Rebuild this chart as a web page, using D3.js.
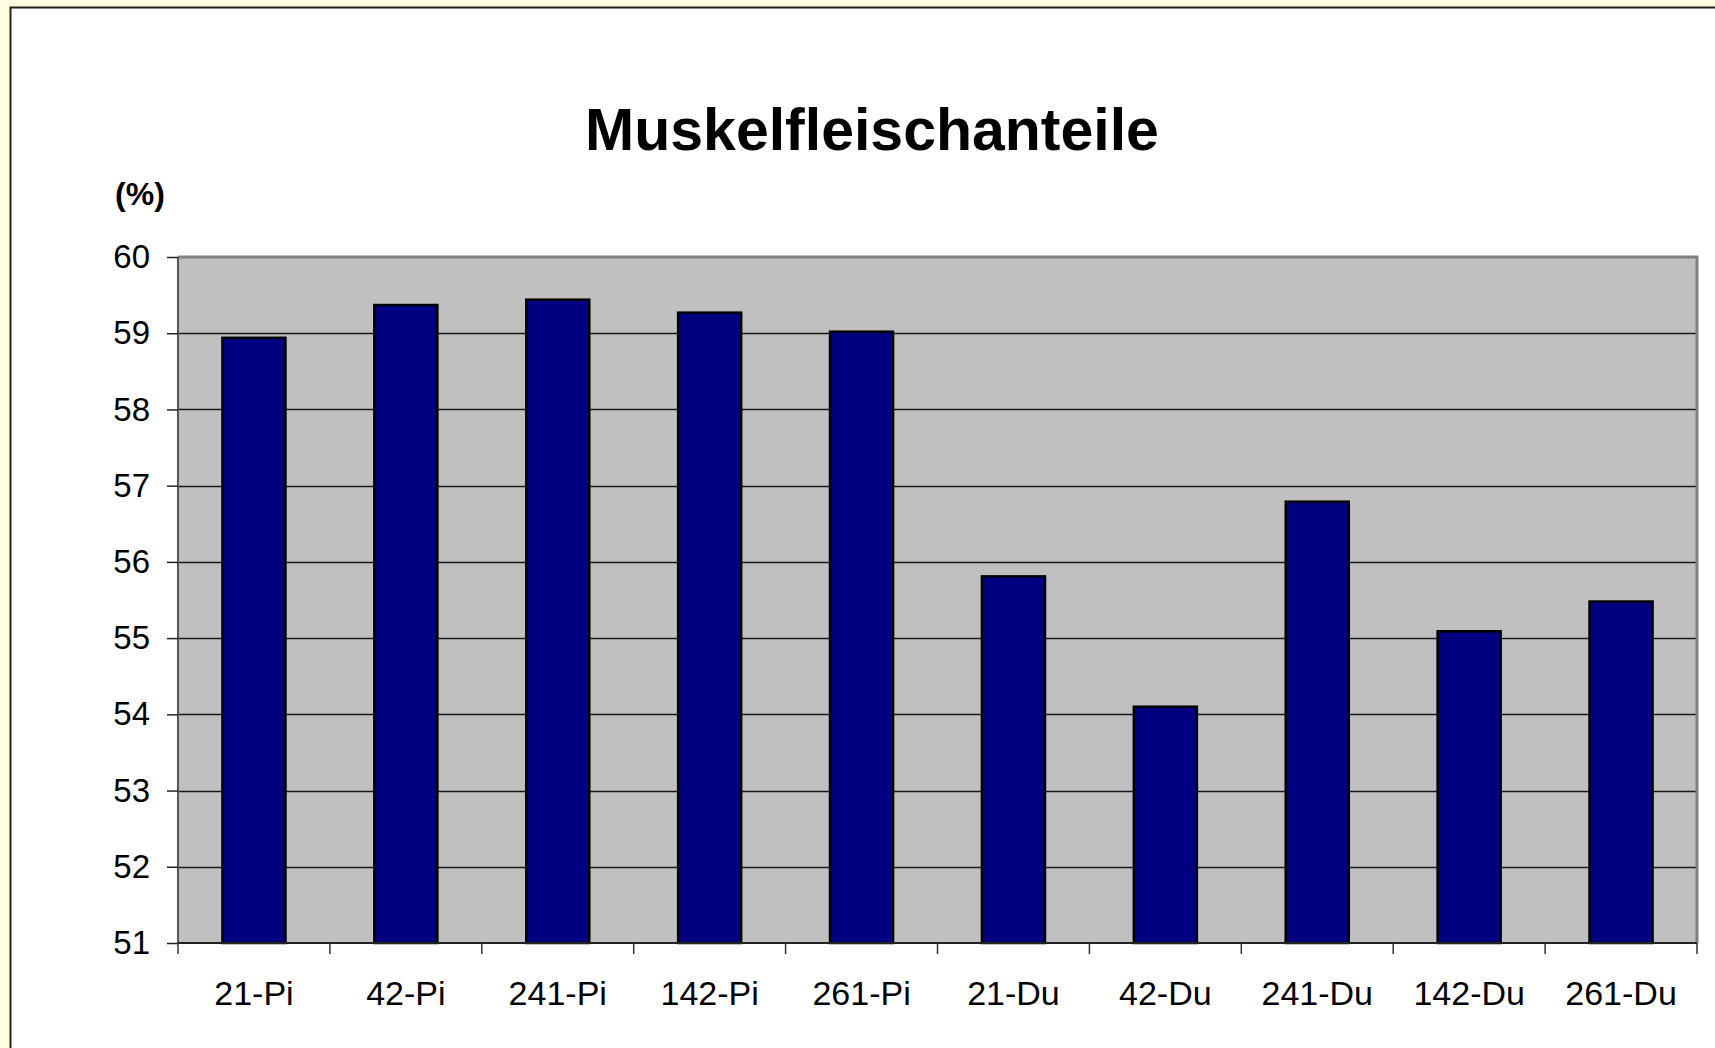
<!DOCTYPE html>
<html>
<head>
<meta charset="utf-8">
<script src="https://cdn.jsdelivr.net/npm/d3@7"></script>
<style>
  html, body { margin: 0; padding: 0; background: #ffffe0; }
  svg { display: block; font-family: "Liberation Sans", Arial, sans-serif; }
  .y.axis .domain { display: none; }
  .x.axis .domain { display: none; }
</style>
</head>
<body>
<svg width="1715" height="1048"></svg>
<script>
// Muskelfleischanteile je Kreuzung (%)
var categories = ['21-Pi', '42-Pi', '241-Pi', '142-Pi', '261-Pi',
                  '21-Du', '42-Du', '241-Du', '142-Du', '261-Du'];
var values = [58.94, 59.37, 59.44, 59.27, 59.02, 55.81, 54.10, 56.79, 55.09, 55.48];
var yTicks = [51, 52, 53, 54, 55, 56, 57, 58, 59, 60];

var data = categories.map(function(c, i){
    return { name: c, value: values[i] };
});

// note: "top" is a read-only global in browsers, so use plot* names
var plotLeft = 178, plotRight = 1697, plotTop = 257, plotBottom = 943;

var svg = d3.select('svg');

// chart frame
svg.append('rect')
    .attr('x', 10.5)
    .attr('y', 7.5)
    .attr('width', 1740)
    .attr('height', 1100)
    .style('fill', '#ffffff')
    .style('stroke', '#222')
    .style('stroke-width', 2);

var xScale = d3.scaleBand()
    .domain(categories)
    .range([plotLeft, plotRight])
    .padding(0);

var yScale = d3.scaleLinear()
    .domain([51, 60])
    .range([plotBottom, plotTop]);

// plot area
svg.append('rect')
    .attr('x', plotLeft)
    .attr('y', plotTop)
    .attr('width', plotRight - plotLeft)
    .attr('height', plotBottom - plotTop)
    .style('fill', '#c0c0c0');

// gridlines
svg.append('g')
    .selectAll('line')
    .data(yTicks.slice(1, -1))
    .enter()
    .append('line')
    .attr('x1', plotLeft)
    .attr('x2', plotRight)
    .attr('y1', function(d){ return Math.round(yScale(d)) + 0.5; })
    .attr('y2', function(d){ return Math.round(yScale(d)) + 0.5; })
    .style('stroke', '#1a1a1a')
    .style('stroke-width', 1.5);

// plot border top/right
svg.append('path')
    .attr('d', 'M' + plotLeft + ',' + plotTop + 'H' + plotRight + 'V' + plotBottom)
    .style('fill', 'none')
    .style('stroke', '#808080')
    .style('stroke-width', 3);

var barW = xScale.bandwidth() * 0.415;

svg.append('g')
    .selectAll('rect')
    .data(data)
    .enter()
    .append('rect')
    .attr('x', function(d){ return xScale(d.name) + (xScale.bandwidth() - barW) / 2; })
    .attr('y', function(d){ return yScale(d.value); })
    .attr('width', barW)
    .attr('height', function(d){ return plotBottom - yScale(d.value); })
    .style('fill', '#000080')
    .style('stroke', '#000')
    .style('stroke-width', 2.5);

// axes lines
svg.append('line')
    .attr('x1', plotLeft).attr('x2', plotLeft)
    .attr('y1', plotTop).attr('y2', plotBottom)
    .style('stroke', '#555')
    .style('stroke-width', 2);

svg.append('line')
    .attr('x1', plotLeft).attr('x2', plotRight)
    .attr('y1', plotBottom).attr('y2', plotBottom)
    .style('stroke', '#222')
    .style('stroke-width', 2);

var yAxis = d3.axisLeft(yScale)
    .tickValues(yTicks)
    .tickFormat(d3.format('d'))
    .tickSize(11)
    .tickPadding(17);

svg.append('g')
    .attr('class', 'y axis')
    .attr('transform', 'translate(' + plotLeft + ',0)')
    .call(yAxis)
    .call(function(g){
        g.selectAll('text')
            .style('font-family', '"Liberation Sans", Arial, sans-serif')
            .style('font-size', '33px')
            .style('fill', '#000');
        g.selectAll('line').style('stroke', '#222').style('stroke-width', 1.5);
    });

// x ticks at category boundaries
var boundaries = categories.map(function(c){ return xScale(c); }).concat([plotRight]);
svg.append('g')
    .attr('class', 'x ticks')
    .selectAll('line')
    .data(boundaries)
    .enter()
    .append('line')
    .attr('x1', function(d){ return d; })
    .attr('x2', function(d){ return d; })
    .attr('y1', plotBottom)
    .attr('y2', plotBottom + 11)
    .style('stroke', '#333')
    .style('stroke-width', 1.5);

var xAxis = d3.axisBottom(xScale).tickSize(0).tickPadding(38);

svg.append('g')
    .attr('class', 'x axis')
    .attr('transform', 'translate(0,' + plotBottom + ')')
    .call(xAxis)
    .call(function(g){
        g.selectAll('text')
            .style('font-family', '"Liberation Sans", Arial, sans-serif')
            .style('font-size', '34px')
            .style('fill', '#000');
    });

// title
svg.append('text')
    .attr('x', 872)
    .attr('y', 150)
    .attr('text-anchor', 'middle')
    .style('font-size', '59px')
    .style('font-weight', 'bold')
    .text('Muskelfleischanteile');

svg.append('text')
    .attr('x', 140)
    .attr('y', 205)
    .attr('text-anchor', 'middle')
    .style('font-size', '32px')
    .style('font-weight', 'bold')
    .text('(%)');
</script>
</body>
</html>
